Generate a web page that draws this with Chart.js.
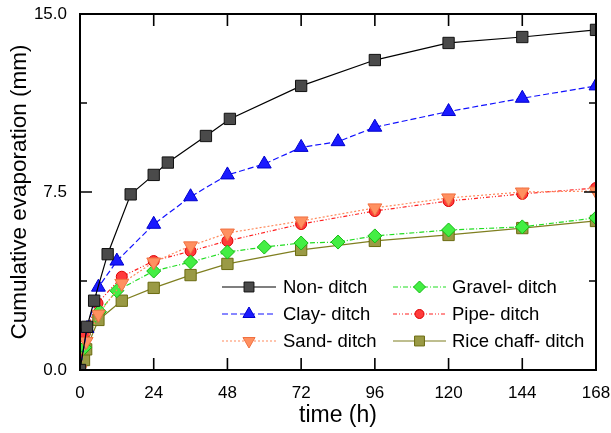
<!DOCTYPE html>
<html>
<head>
<meta charset="utf-8">
<script src="https://cdn.jsdelivr.net/npm/chart.js@4.4.1/dist/chart.umd.min.js"></script>
<style>
  html, body { margin: 0; padding: 0; background: #fff; }
  #wrap { width: 611px; height: 433px; position: relative; }
</style>
</head>
<body>
<div id="wrap"><canvas id="c" width="611" height="433"></canvas></div>
<script>
const FONT = "'Liberation Sans', Arial, sans-serif";

// time (h) and cumulative evaporation (mm)
const tNon   = [0, 2.3, 4.6, 9, 16.5, 24, 28.6, 41, 48.8, 72, 96, 120, 144, 168];
const vNon   = [0, 1.82, 2.92, 4.88, 7.40, 8.22, 8.74, 9.86, 10.58, 11.97, 13.06, 13.78, 14.03, 14.33];

const tClay  = [0, 2.3, 6, 12, 24, 36, 48, 60, 72, 84, 96, 120, 144, 168];
const vClay  = [0, 1.75, 3.49, 4.59, 6.14, 7.30, 8.22, 8.68, 9.38, 9.62, 10.23, 10.89, 11.45, 11.97];

const tSand  = [0, 2, 6, 13.6, 24, 36, 48, 72, 96, 120, 144, 168];
const vSand  = [0, 1.20, 2.35, 3.65, 4.55, 5.23, 5.77, 6.28, 6.83, 7.25, 7.50, 7.54];

const tGravel = [0, 1.5, 6.3, 12, 24, 36, 48, 60, 72, 84, 96, 120, 144, 168];
const vGravel = [0, 0.95, 2.46, 3.34, 4.17, 4.55, 4.97, 5.18, 5.35, 5.39, 5.65, 5.90, 6.03, 6.41];

const tPipe  = [0, 1.6, 5.7, 13.6, 24, 36, 48, 72, 96, 120, 144, 168];
const vPipe  = [0, 1.55, 2.81, 3.93, 4.59, 5.01, 5.44, 6.15, 6.70, 7.12, 7.42, 7.67];

const tRice  = [0, 1.3, 2, 6, 13.6, 24, 36, 48, 72, 96, 120, 144, 168];
const vRice  = [0, 0.42, 0.87, 2.11, 2.92, 3.46, 4.00, 4.47, 5.06, 5.44, 5.69, 5.98, 6.28];

const xTicks = [0, 24, 48, 72, 96, 120, 144, 168];
const yTicks = [0, 7.5, 15];
const yMinor = [3.75, 11.25];

const pts = (t, v) => t.map((x, i) => ({ x: x, y: v[i] }));

function series(label, t, v, line, fill, edge, dash, style, r, rot) {
  return {
    label: label, data: pts(t, v),
    borderColor: line, borderWidth: 1.2, borderDash: dash,
    backgroundColor: fill,
    pointStyle: style, pointRadius: r, pointRotation: rot || 0,
    pointBackgroundColor: fill, pointBorderColor: edge, pointBorderWidth: 1,
    tension: 0, fill: false
  };
}

const datasets = [
  series('Non- ditch',  tNon,    vNon,    '#000000', '#4a4a4a', '#111111', [],           'rect',     8),
  series('Clay- ditch', tClay,   vClay,   '#1010ff', '#1a1aff', '#0000cc', [6, 3],       'triangle', 8),
  series('Sand- ditch', tSand,   vSand,   '#ff8a5c', '#ff9060', '#f07040', [2, 2],       'triangle', 8, 180),
  series('Gravel- ditch', tGravel, vGravel, '#22dd22', '#44ee44', '#11bb11', [5, 2, 1, 2], 'rectRot', 7),
  series('Pipe- ditch', tPipe,   vPipe,   '#ff2020', '#ff3b3b', '#dd0000', [4, 2, 1, 2, 1, 2], 'circle', 5.5),
  series('Rice chaff- ditch', tRice, vRice, '#7f7f20', '#9a9a45', '#6b6b10', [],        'rect',     8)
];

// frame, inward ticks and the legend box
const framePlugin = {
  id: 'frame',
  afterDraw(chart) {
    const ctx = chart.ctx, a = chart.chartArea;
    const xs = chart.scales.x, ys = chart.scales.y;
    ctx.save();
    ctx.strokeStyle = '#000';
    ctx.lineWidth = 2;
    ctx.strokeRect(a.left, a.top, a.right - a.left, a.bottom - a.top);
    ctx.lineWidth = 1.6;
    ctx.beginPath();
    xTicks.forEach(t => {
      const px = xs.getPixelForValue(t);
      ctx.moveTo(px, a.bottom); ctx.lineTo(px, a.bottom - 12);
      ctx.moveTo(px, a.top);    ctx.lineTo(px, a.top + 12);
    });
    yTicks.forEach(v => {
      const py = ys.getPixelForValue(v);
      ctx.moveTo(a.left, py);  ctx.lineTo(a.left + 12, py);
      ctx.moveTo(a.right, py); ctx.lineTo(a.right - 12, py);
    });
    yMinor.forEach(v => {
      const py = ys.getPixelForValue(v);
      ctx.moveTo(a.left, py);  ctx.lineTo(a.left + 7, py);
      ctx.moveTo(a.right, py); ctx.lineTo(a.right - 7, py);
    });
    ctx.stroke();
    ctx.restore();
  },
  afterDatasetsDraw(chart) {
    const ctx = chart.ctx;
    const cols = [{ x0: 222, x1: 276, tx: 283 }, { x0: 393, x1: 446, tx: 452 }];
    const rows = [287, 314, 341];
    ctx.save();
    ctx.font = '18.5px ' + FONT;
    ctx.textBaseline = 'middle';
    ctx.fillStyle = '#000';
    chart.data.datasets.forEach((ds, i) => {
      const c = cols[Math.floor(i / 3)], y = rows[i % 3];
      ctx.save();
      ctx.strokeStyle = ds.borderColor;
      ctx.lineWidth = ds.borderWidth;
      ctx.setLineDash(ds.borderDash);
      ctx.beginPath(); ctx.moveTo(c.x0, y); ctx.lineTo(c.x1, y); ctx.stroke();
      ctx.setLineDash([]);
      ctx.fillStyle = ds.pointBackgroundColor;
      ctx.strokeStyle = ds.pointBorderColor;
      ctx.lineWidth = ds.pointBorderWidth;
      Chart.helpers.drawPoint(ctx, {
        pointStyle: ds.pointStyle, radius: ds.pointRadius - 1,
        rotation: ds.pointRotation, borderWidth: ds.pointBorderWidth
      }, (c.x0 + c.x1) / 2, y);
      ctx.restore();
      ctx.fillText(ds.label, c.tx, y + 1);
    });
    ctx.restore();
  }
};

new Chart(document.getElementById('c'), {
  type: 'line',
  data: { datasets: datasets },
  options: {
    responsive: false, animation: false,
    layout: { padding: { top: 14, right: 15, left: 0, bottom: 0 } },
    plugins: { legend: { display: false }, tooltip: { enabled: false } },
    scales: {
      x: {
        type: 'linear', min: 0, max: 168,
        afterFit: s => { s.height = 63; s.paddingLeft = 0; s.paddingRight = 0; },
        afterBuildTicks: s => { s.ticks = xTicks.map(v => ({ value: v })); },
        grid: { display: false, drawTicks: false },
        border: { display: false },
        ticks: { color: '#000', padding: 13, maxRotation: 0, font: { family: FONT, size: 17 } },
        title: { display: true, text: 'time (h)', color: '#000', padding: { top: 0 }, font: { family: FONT, size: 23 } }
      },
      y: {
        type: 'linear', min: 0, max: 15,
        afterFit: s => { s.width = 80; s.paddingTop = 0; s.paddingBottom = 0; },
        afterBuildTicks: s => { s.ticks = yTicks.map(v => ({ value: v })); },
        grid: { display: false, drawTicks: false },
        border: { display: false },
        ticks: { color: '#000', padding: 13, callback: v => v.toFixed(1), font: { family: FONT, size: 17 } },
        title: { display: true, text: 'Cumulative evaporation (mm)', color: '#000', padding: { top: 6, bottom: 0 }, font: { family: FONT, size: 22.5 } }
      }
    }
  },
  plugins: [framePlugin]
});
</script>
</body>
</html>
